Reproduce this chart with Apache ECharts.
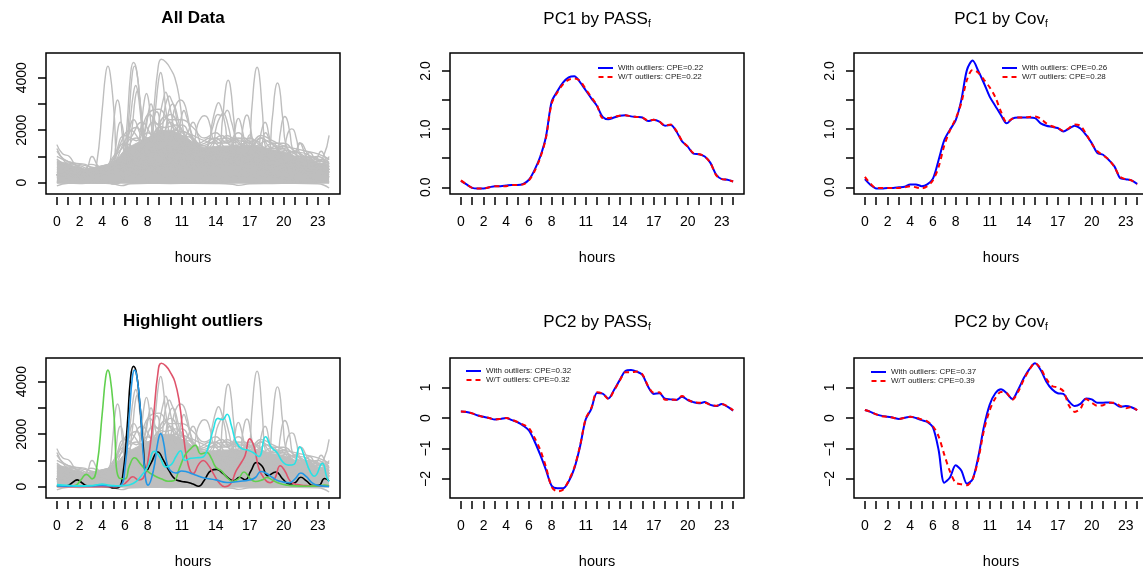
<!DOCTYPE html>
<html>
<head>
<meta charset="utf-8">
<title>PCA outliers</title>
<script src="https://cdn.jsdelivr.net/npm/echarts@6/dist/echarts.min.js"></script>
<style>html,body{margin:0;padding:0;background:#fff;}</style>
</head>
<body>
<div id="main" style="width:1143px;height:571px;"></div>
<script type="text/javascript">
// axis ticks / labels
var tickHours = [0,1,2,3,4,5,6,7,8,9,10,11,12,13,14,15,16,17,18,19,20,21,22,23,24];
var labelHours = [0,2,4,6,8,11,14,17,20,23];
var halfHours = [0,0.5,1,1.5,2,2.5,3,3.5,4,4.5,5,5.5,6,6.5,7,7.5,8,8.5,9,9.5,10,10.5,11,11.5,12,12.5,13,13.5,14,14.5,15,15.5,16,16.5,17,17.5,18,18.5,19,19.5,20,20.5,21,21.5,22,22.5,23,23.5,24];

// dense gray mass (top edge, hourly)
var bandTop = [850,700,560,470,500,750,1250,1500,1700,1950,2000,1800,1550,1350,1380,1400,1400,1380,1370,1260,1180,1000,880,760,680];

// gray curves poking out of the mass: [hour, value]
var grayCurves = [
  [[0,600],[1,500],[2,450],[3,350],[4,400],[5,600],[6,1100],[7,1700],[8,1500],[9,2100],[10,1700],[11,1900],[12,1400],[13,1500],[14,1700],[15,1300],[16,1600],[17,1500],[18,1300],[19,1500],[20,1100],[21,1200],[22,800],[23,900],[24,500]],
  [[0,900],[1,600],[2,500],[3,450],[4,350],[5,900],[6,1500],[7,1300],[8,1900],[9,1600],[10,2300],[11,1800],[12,1700],[13,1200],[14,1600],[15,1700],[16,1300],[17,1700],[18,1400],[19,1200],[20,1400],[21,1000],[22,1000],[23,700],[24,800]],
  [[0,700],[1,750],[2,600],[3,400],[4,450],[5,700],[6,1600],[7,2100],[8,1700],[9,2000],[10,1900],[11,2200],[12,1600],[13,1400],[14,1300],[15,1800],[16,1500],[17,1300],[18,1700],[19,1300],[20,1300],[21,1100],[22,900],[23,1000],[24,600]],
  [[0,500],[1.5,600],[3.5,380],[5.5,1200],[6.5,1700],[7.5,2300],[8.5,1800],[9.5,2500],[10.5,2000],[11.5,1900],[12.5,1500],[13.5,1700],[14.5,1500],[15.5,1600],[16.5,1700],[17.5,1400],[18.5,1600],[19.5,1300],[20.5,1200],[21.5,1100],[22.5,800],[23.5,900],[24,700]],
  [[0,1000],[1,800],[2,700],[3,600],[4,500],[5,800],[5.5,1400],[6.5,2000],[7.5,1600],[8.5,2300],[9.5,2100],[10.5,2200],[11.5,1700],[12.5,1400],[13.5,1500],[14.5,1800],[15.5,1400],[16.5,1500],[17.5,1600],[18.5,1300],[19.5,1400],[20.5,1100],[21.5,900],[22.5,1000],[23.5,800],[24,900]],
  [[0,800],[1,700],[2,650],[3,500],[4,520],[5,650],[6,1300],[6.8,2400],[7.5,1800],[8.2,2600],[9,2200],[10,2600],[11,2000],[12,1800],[13,1600],[14,1500],[15,1600],[16,1700],[17,1400],[18,1700],[19,1500],[20,1500],[21,1200],[22,1100],[23,850],[24,750]],
  [[0,400],[2,300],[3,700],[4,600],[5,1000],[6,1800],[7,1600],[8,2600],[9,2800],[10,2400],[11,2400],[12,2100],[13,1700],[14,1900],[15,1500],[16,1900],[17,1500],[18,1800],[19,1600],[20,1400],[21,1300],[22,1200],[23,1100],[24,900]],
  [[0,-120],[1,-20],[2,-30],[3,-10],[4,-20],[5,-50],[5.7,-110],[6.5,-40],[8,-20],[10,-30],[12,-20],[14,-30],[15.5,-60],[16,-100],[17,-40],[19,-30],[21,-20],[23,-40],[24,-200]],
  [[0,300],[2,250],[4,250],[4.6,600],[4.9,1700],[5.15,2850],[5.35,3150],[5.55,2850],[5.8,1700],[6.2,800],[7,900],[9,1000],[12,800],[16,700],[20,500],[24,300]],
  [[0,200],[3,200],[4.8,500],[5.2,1400],[5.4,2100],[5.6,2300],[5.8,2100],[6.0,1400],[6.5,900],[9,1200],[14,900],[20,600],[24,300]],
  [[0,300],[4,300],[5.8,700],[6.4,2200],[6.75,3400],[6.95,3700],[7.15,3400],[7.5,2200],[8,1200],[10,1300],[14,900],[20,700],[24,400]],
  [[0,250],[4,300],[6,600],[6.6,2000],[6.9,3200],[7.1,3500],[7.3,3200],[7.6,2100],[8.2,1000],[11,1200],[16,800],[24,400]],
  [[0,300],[5,400],[6.8,900],[7.4,2100],[7.7,3100],[7.9,3400],[8.1,3100],[8.4,2000],[9,1300],[12,1100],[18,800],[24,400]],
  [[0,200],[5,400],[7,1000],[7.8,2000],[8.1,2750],[8.3,3000],[8.5,2750],[8.8,2000],[9.5,1500],[13,1000],[24,400]],
  [[0,300],[6,700],[8,1100],[8.6,2500],[8.95,3850],[9.15,4200],[9.35,3850],[9.7,2500],[10.3,1500],[13,1100],[24,500]],
  [[0,300],[6,800],[8.5,1400],[9.1,2600],[9.4,3200],[9.6,3450],[9.8,3200],[10.1,2600],[10.7,1500],[14,1000],[24,500]],
  [[0,250],[7,900],[9,1500],[9.5,2800],[9.7,3150],[9.9,3300],[10.1,3150],[10.4,2800],[11,1600],[15,1000],[24,400]],
  [[0,300],[7,1000],[9.3,1700],[9.8,2600],[10.0,2900],[10.2,3000],[10.4,2900],[10.7,2400],[11.3,1500],[16,900],[24,400]],
  [[0,300],[8,1000],[9.8,1600],[10.3,2700],[10.6,3050],[10.9,3150],[11.2,3050],[11.5,2600],[12,1700],[13,1200],[24,500]],
  [[0,300],[9,1200],[10.5,1700],[11.0,2550],[11.2,2750],[11.4,2550],[11.8,2000],[12.5,1300],[24,500]],
  [[0,300],[10,1200],[11.4,1800],[11.8,2200],[12,2300],[12.2,2200],[12.5,1700],[13.2,1100],[24,500]],
  [[0,300],[10,1100],[11.8,1300],[12.4,2200],[12.75,2500],[13,2550],[13.25,2500],[13.5,2200],[14,1500],[16,1100],[24,500]],
  [[0,300],[11,1000],[13.2,1300],[13.7,2300],[14.05,2900],[14.25,3050],[14.45,2900],[14.8,2300],[15.3,1400],[24,500]],
  [[0,300],[12,1000],[13.5,1200],[14.1,2200],[14.45,2550],[14.65,2650],[14.85,2550],[15.2,2000],[15.7,1200],[24,500]],
  [[0,300],[12,900],[14.2,1100],[14.6,2400],[14.9,3650],[15.1,3900],[15.3,3650],[15.6,2400],[16,1200],[24,500]],
  [[0,300],[13,900],[15.3,1200],[15.7,2000],[15.85,2350],[16.0,2450],[16.15,2350],[16.4,1900],[16.9,1100],[24,500]],
  [[0,300],[13,900],[16,1200],[16.4,2100],[16.6,2500],[16.75,2580],[16.9,2500],[17.1,2000],[17.6,1100],[24,500]],
  [[0,300],[14,900],[16.8,1200],[17.2,2900],[17.45,4100],[17.65,4400],[17.85,4100],[18.1,2800],[18.5,1200],[24,500]],
  [[0,300],[15,900],[17.6,1200],[18,1900],[18.2,2220],[18.35,2300],[18.5,2220],[18.7,1800],[19.2,1000],[24,500]],
  [[0,300],[15,900],[18.5,1100],[19,2500],[19.25,3550],[19.45,3800],[19.65,3550],[19.9,2500],[20.4,1200],[24,400]],
  [[0,300],[16,900],[19.3,1100],[19.7,1900],[19.9,2400],[20.1,2520],[20.3,2400],[20.5,2000],[21,1100],[24,400]],
  [[0,300],[16,800],[19.8,1100],[20.3,1800],[20.5,2000],[20.7,2050],[20.9,2000],[21.1,1700],[21.6,1000],[24,400]],
  [[0,300],[18,900],[20.8,1100],[21.5,1500],[22.1,1100],[23,700],[24,500]],
  [[0,300],[19,900],[21.5,900],[22.3,1150],[22.8,900],[23.3,1200],[23.8,900],[24,1000]],
  [[0,300],[20,800],[22,900],[23,800],[23.5,1000],[24,1800]],
  [[0,1450],[0.5,1100],[1.1,1000],[1.7,650],[3,400],[5,700],[8,1300],[12,1200],[24,600]],
  [[0,400],[1.5,450],[2.5,500],[3.1,1000],[3.7,600],[4.5,500],[6,1000],[10,1200],[24,500]],
  [[0,1200],[0.6,900],[1.5,750],[2.5,700],[3.2,500],[4,400],[5,800],[10,1300],[24,500]],
  [[0,1300],[0.7,800],[1.5,600],[3,400],[24,400]],
  [[0,300],[7,1000],[8.3,1500],[8.6,2550],[8.8,2700],[9.0,2550],[9.3,1700],[12,1200],[24,500]]
];

// highlighted outlier curves: [hour, value]
var outBlack = [[0,30],[0.5,20],[1,50],[1.5,200],[1.8,260],[2.2,150],[2.7,30],[3.5,20],[4.5,10],[5,-50],[5.4,-40],[5.8,400],[6.2,2300],[6.5,4150],[6.75,4580],[7.0,4350],[7.3,3200],[7.6,1600],[7.9,600],[8.3,900],[8.9,1320],[9.4,1000],[9.9,600],[10.4,300],[11,200],[11.5,170],[12,100],[12.5,20],[13,250],[13.6,620],[14.1,660],[14.6,520],[15.2,300],[15.6,230],[16.1,360],[16.6,260],[17.1,600],[17.6,920],[18.1,780],[18.6,420],[19.3,560],[19.9,300],[20.5,100],[21,150],[21.5,360],[22,220],[22.6,40],[23.1,50],[23.6,310],[24,220]];
var outRed = [[0,10],[2,0],[4,0],[5.2,0],[5.7,30],[6.2,200],[6.7,380],[7.2,260],[7.6,320],[8,900],[8.5,2600],[8.9,4300],[9.2,4700],[9.6,4600],[10,4350],[10.4,4000],[10.8,3200],[11.2,1800],[11.6,800],[12,500],[12.5,850],[12.9,1000],[13.3,850],[13.8,500],[14.3,150],[14.8,0],[15.3,100],[15.8,600],[16.3,950],[16.6,1200],[17,1820],[17.4,1500],[17.8,700],[18.3,300],[18.8,150],[19.2,300],[19.7,800],[20.1,600],[20.6,200],[21.2,80],[22,40],[23,20],[24,30]];
var outGreen = [[0,20],[1,20],[1.6,40],[2.1,250],[2.6,470],[3.1,300],[3.5,700],[4,2800],[4.3,4150],[4.5,4440],[4.7,4150],[5,2900],[5.5,320],[6,300],[6.4,800],[6.85,1100],[7.4,850],[8,580],[8.6,420],[9.2,300],[9.8,210],[10.3,230],[10.8,700],[11.3,1200],[11.8,1450],[12.2,1580],[12.7,1250],[13.2,1300],[13.6,1100],[14,750],[14.5,600],[15,350],[15.5,200],[16,300],[16.5,560],[17,330],[17.5,200],[18.1,260],[18.5,350],[19,250],[19.6,130],[20.3,60],[21,30],[22,20],[23,30],[23.6,60],[24,40]];
var outBlue = [[0,30],[1,20],[2,20],[3,30],[4,50],[5,20],[5.6,50],[6,700],[6.4,2800],[6.65,4150],[6.85,4440],[7.05,4200],[7.35,3000],[7.7,800],[8.05,60],[8.5,600],[8.9,1700],[9.15,2020],[9.4,1700],[9.7,900],[10,620],[10.5,520],[11,600],[11.5,560],[12,480],[12.5,400],[13,330],[14,260],[15,160],[16,200],[17,260],[17.5,350],[18,580],[18.5,500],[19,350],[19.5,230],[20.5,150],[21,300],[21.5,520],[22,380],[22.5,150],[23,50],[24,10]];
var outCyan = [[0,80],[0.5,60],[1,50],[2,30],[3,40],[3.5,70],[4,100],[4.5,60],[5,40],[5.5,30],[6,50],[6.5,80],[7,200],[7.5,450],[8,750],[8.6,1350],[9.1,1100],[9.6,750],[10.1,850],[10.5,1150],[10.9,1370],[11.3,1000],[11.8,1080],[12.3,1100],[12.8,1120],[13.3,1450],[13.8,2200],[14.2,2600],[14.6,2550],[15,2760],[15.4,2300],[15.8,1700],[16.3,1450],[16.8,1400],[17.3,1300],[17.8,1150],[18.4,1900],[18.9,1500],[19.4,1300],[19.9,950],[20.4,820],[20.9,850],[21.4,1520],[21.9,1050],[22.3,600],[22.7,400],[23.4,890],[23.8,350],[24,200]];

// principal components, one value per half hour
var pc1PassWith    = [0.11,0.05,-0.01,-0.02,-0.02,0.0,0.02,0.02,0.03,0.04,0.04,0.06,0.13,0.3,0.53,0.87,1.47,1.65,1.8,1.89,1.91,1.81,1.67,1.53,1.4,1.21,1.17,1.2,1.23,1.24,1.22,1.21,1.2,1.14,1.16,1.13,1.06,1.07,0.96,0.79,0.7,0.58,0.57,0.53,0.42,0.22,0.14,0.13,0.1];
var pc1PassWithout = [0.12,0.05,-0.01,-0.02,-0.02,0.0,0.02,0.02,0.02,0.04,0.04,0.05,0.12,0.28,0.51,0.85,1.44,1.63,1.77,1.85,1.87,1.83,1.69,1.55,1.41,1.19,1.19,1.21,1.23,1.24,1.22,1.21,1.2,1.15,1.16,1.13,1.06,1.08,0.97,0.8,0.7,0.59,0.57,0.53,0.42,0.21,0.14,0.13,0.1];
var pc1CovWith     = [0.14,0.04,-0.02,-0.02,-0.01,-0.01,0.0,0.01,0.05,0.05,0.02,0.05,0.15,0.47,0.81,0.99,1.15,1.5,2.02,2.18,2.0,1.79,1.56,1.4,1.24,1.1,1.18,1.2,1.2,1.2,1.19,1.1,1.06,1.04,1.02,0.96,1.01,1.06,1.01,0.9,0.76,0.59,0.56,0.47,0.36,0.16,0.14,0.12,0.06];
var pc1CovWithout  = [0.18,0.06,-0.01,-0.01,-0.01,-0.01,-0.01,0.0,0.02,0.0,-0.02,0.02,0.12,0.35,0.72,0.98,1.18,1.45,1.85,2.02,1.97,1.85,1.72,1.55,1.3,1.12,1.18,1.2,1.2,1.21,1.22,1.18,1.1,1.05,1.02,0.97,1.02,1.08,1.06,0.92,0.75,0.62,0.55,0.48,0.35,0.18,0.14,0.12,0.05];
var pc2PassWith    = [0.21,0.2,0.15,0.08,0.04,0.0,-0.05,-0.03,0.0,-0.07,-0.14,-0.25,-0.41,-0.77,-1.21,-1.7,-2.22,-2.3,-2.3,-2.08,-1.65,-0.94,-0.05,0.3,0.82,0.8,0.64,0.92,1.24,1.54,1.57,1.52,1.41,1.03,0.79,0.81,0.63,0.61,0.59,0.7,0.59,0.52,0.48,0.52,0.43,0.39,0.46,0.37,0.24];
var pc2PassWithout = [0.21,0.2,0.15,0.08,0.04,0.0,-0.05,-0.03,0.0,-0.06,-0.13,-0.22,-0.33,-0.65,-1.05,-1.6,-2.25,-2.4,-2.35,-2.05,-1.62,-0.92,-0.03,0.33,0.84,0.8,0.62,0.9,1.22,1.5,1.5,1.52,1.43,1.05,0.83,0.84,0.6,0.6,0.6,0.72,0.6,0.52,0.5,0.5,0.43,0.4,0.46,0.38,0.25];
var pc2CovWith     = [0.26,0.2,0.12,0.07,0.04,0.01,-0.03,0.01,0.04,0.0,-0.07,-0.13,-0.31,-1.05,-2.12,-1.95,-1.55,-1.72,-2.15,-2.0,-1.27,-0.28,0.43,0.81,0.94,0.81,0.62,0.92,1.3,1.6,1.79,1.57,1.19,0.94,0.81,0.79,0.54,0.39,0.46,0.64,0.61,0.5,0.5,0.51,0.48,0.37,0.39,0.35,0.26];
var pc2CovWithout  = [0.26,0.2,0.12,0.06,0.04,0.01,-0.03,0.01,0.04,0.01,-0.05,-0.11,-0.27,-0.6,-1.2,-1.75,-2.12,-2.17,-2.2,-2.0,-1.35,-0.4,0.25,0.65,0.85,0.82,0.6,0.85,1.25,1.58,1.8,1.62,1.28,1.05,1.0,0.88,0.4,0.2,0.3,0.62,0.5,0.4,0.42,0.5,0.5,0.4,0.32,0.36,0.25];

var legendNames = [
  ['With outliers: CPE=0.22', 'W/T outliers: CPE=0.22'],
  ['With outliers: CPE=0.26', 'W/T outliers: CPE=0.28'],
  ['With outliers: CPE=0.32', 'W/T outliers: CPE=0.32'],
  ['With outliers: CPE=0.37', 'W/T outliers: CPE=0.39']
];

var FONT = 'Liberation Sans';
var GRAY = '#BEBEBE';
var SOLID_ICON = 'path://M0,0h15v2h-15z';
var DASH_ICON = 'path://M0,0h5v2h-5zM9,0h5v2h-5z';
var myChart = echarts.init(document.getElementById('main'));

function pairs(xs, ys) {
  return xs.map(function (x, i) { return [x, ys[i]]; });
}

function grid(left, top, h) {
  return { left: left, top: top, width: 294, height: h, show: true, borderColor: '#000', borderWidth: 1.5,
           backgroundColor: 'transparent', containLabel: false, outerBoundsMode: 'none' };
}

function xAxisFor(i) {
  return {
    type: 'value', gridIndex: i, position: 'bottom', min: -0.96, max: 24.96, offset: 3,
    axisLine: { show: false, onZero: false }, splitLine: { show: false },
    axisTick: { show: true, length: 8, customValues: tickHours, lineStyle: { color: '#000', width: 1.5 } },
    axisLabel: { customValues: labelHours, margin: 18, fontSize: 14, color: '#000', fontFamily: FONT },
    name: 'hours', nameLocation: 'middle', nameGap: 53,
    nameTextStyle: { fontSize: 14.5, color: '#000', fontFamily: FONT }
  };
}

function yAxisFor(i, min, max, ticks, labels, fmt) {
  return {
    type: 'value', gridIndex: i, position: 'left', min: min, max: max,
    axisLine: { show: false, onZero: false }, splitLine: { show: false },
    axisTick: { show: true, length: 8, customValues: ticks, lineStyle: { color: '#000', width: 1.5 } },
    axisLabel: { customValues: labels, rotate: 90, margin: 17, fontSize: 14, color: '#000', fontFamily: FONT, formatter: fmt }
  };
}

function line(i, data, color, width, opts) {
  var s = {
    type: 'line', xAxisIndex: i, yAxisIndex: i, data: data, smooth: 0.5,
    symbol: 'none', silent: true, animation: false,
    lineStyle: { color: color, width: width }, itemStyle: { color: color }, z: 3
  };
  for (var k in opts) s[k] = opts[k];
  return s;
}

function title(text, x, y, bold) {
  return {
    text: text, left: x, top: y, textAlign: 'center', padding: 0,
    textStyle: {
      fontSize: 17, fontWeight: bold ? 'bold' : 'normal', fontFamily: FONT, color: '#000',
      rich: {
        m: { fontSize: 17, fontFamily: FONT, color: '#000', lineHeight: 20 },
        s: { fontSize: 10, fontFamily: FONT, color: '#000', lineHeight: 12, verticalAlign: 'bottom' }
      }
    }
  };
}

function legend(names, x, y) {
  return {
    data: [
      { name: names[0], icon: SOLID_ICON, itemStyle: { color: '#0000FF' } },
      { name: names[1], icon: DASH_ICON, itemStyle: { color: '#FF0000' } }
    ],
    left: x, top: y, orient: 'vertical', itemWidth: 15, itemHeight: 2, itemGap: 1,
    padding: 0, selectedMode: false,
    textStyle: { fontSize: 8, fontFamily: FONT, color: '#222' }
  };
}

var series = [];

// panels 0 and 3: raw curves
[0, 3].forEach(function (p) {
  series.push(line(p, pairs(tickHours, bandTop), GRAY, 1,
    { smooth: 0.3, areaStyle: { color: GRAY, opacity: 1, origin: -40 }, z: 1 }));
  grayCurves.forEach(function (c) { series.push(line(p, c, GRAY, 1.4, { z: 2 })); });
});
[outBlack, outRed, outGreen, outBlue, outCyan].forEach(function (c) {
  series.push(line(0, c, GRAY, 1.4, { z: 2 }));
});
series.push(line(3, outBlack, '#000000', 1.6));
series.push(line(3, outRed, '#DF536B', 1.6));
series.push(line(3, outGreen, '#61D04F', 1.6));
series.push(line(3, outBlue, '#2297E6', 1.6));
series.push(line(3, outCyan, '#28E2E5', 1.6));

// PC panels
var pcSets = [
  [1, pc1PassWith, pc1PassWithout, legendNames[0]],
  [2, pc1CovWith, pc1CovWithout, legendNames[1]],
  [4, pc2PassWith, pc2PassWithout, legendNames[2]],
  [5, pc2CovWith, pc2CovWithout, legendNames[3]]
];
pcSets.forEach(function (s) {
  series.push(line(s[0], pairs(halfHours, s[1]), '#0000FF', 2, { name: s[3][0], smooth: 0.3 }));
  series.push(line(s[0], pairs(halfHours, s[2]), '#FF0000', 2,
    { name: s[3][1], smooth: 0.3, lineStyle: { color: '#FF0000', width: 2, type: [5, 4] }, z: 4 }));
});

var fmtInt = function (v) { return String(v); };
var fmt1 = function (v) { return v.toFixed(1); };
var fmtMinus = function (v) { return String(v).replace('-', '\u2212'); };

var option = {
  backgroundColor: '#fff',
  animation: false,
  title: [
    title('All Data', 193, 10, true),
    title('{m|PC1 by PASS}{s|f}', 597, 9, false),
    title('{m|PC1 by Cov}{s|f}', 1001, 9, false),
    title('Highlight outliers', 193, 313, true),
    title('{m|PC2 by PASS}{s|f}', 597, 312, false),
    title('{m|PC2 by Cov}{s|f}', 1001, 312, false)
  ],
  legend: [
    legend(legendNames[0], 598, 64),
    legend(legendNames[1], 1002, 64),
    legend(legendNames[2], 466, 367),
    legend(legendNames[3], 871, 368)
  ],
  grid: [
    grid(46, 53, 141), grid(450, 53, 141), grid(854, 53, 141),
    grid(46, 358, 140), grid(450, 358, 140), grid(854, 358, 140)
  ],
  xAxis: [0, 1, 2, 3, 4, 5].map(xAxisFor),
  yAxis: [
    yAxisFor(0, -430, 4940, [0, 1000, 2000, 3000, 4000], [0, 2000, 4000], fmtInt),
    yAxisFor(1, -0.115, 2.31, [0, 0.5, 1, 1.5, 2], [0, 1, 2], fmt1),
    yAxisFor(2, -0.115, 2.31, [0, 0.5, 1, 1.5, 2], [0, 1, 2], fmt1),
    yAxisFor(3, -430, 4900, [0, 1000, 2000, 3000, 4000], [0, 2000, 4000], fmtInt),
    yAxisFor(4, -2.62, 1.965, [-2, -1, 0, 1], [-2, -1, 0, 1], fmtMinus),
    yAxisFor(5, -2.62, 1.965, [-2, -1, 0, 1], [-2, -1, 0, 1], fmtMinus)
  ],
  series: series
};

myChart.setOption(option);
</script>
</body>
</html>
